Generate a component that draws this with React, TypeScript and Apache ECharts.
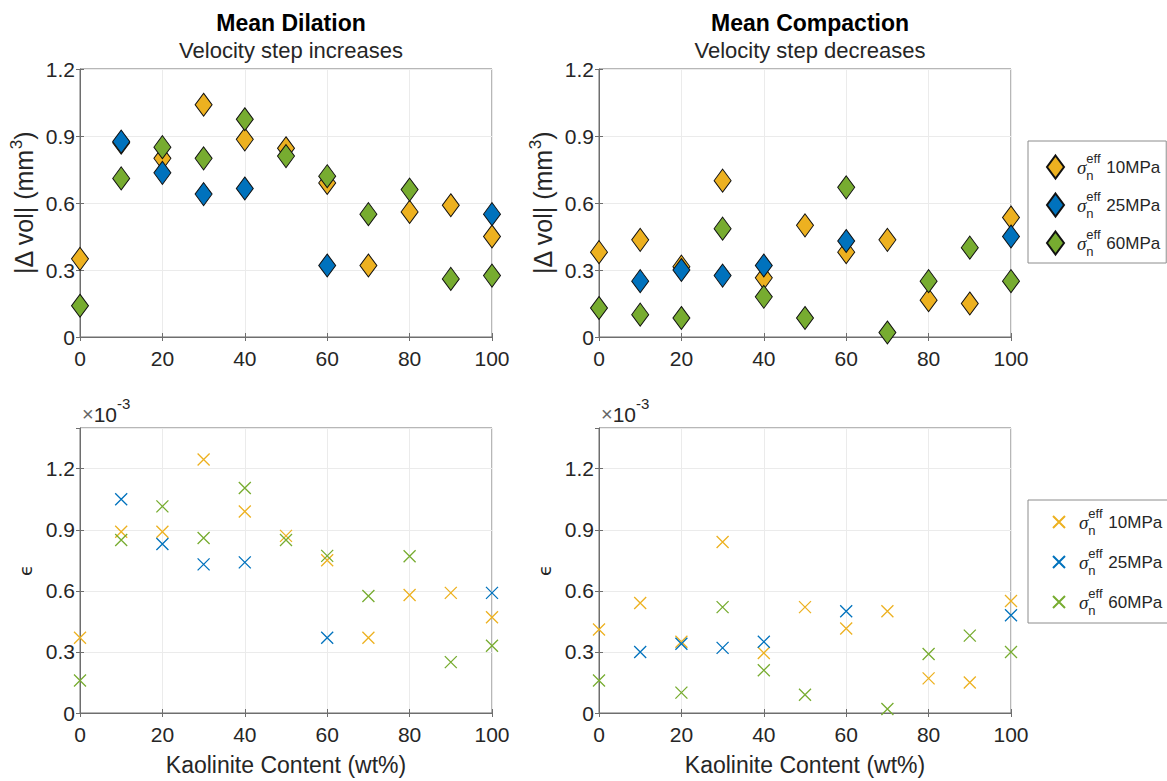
import React, { useEffect, useRef } from 'react';
import * as echarts from 'echarts';

// Kaolinite content (wt%)
const kaolinite = [0, 10, 20, 30, 40, 50, 60, 70, 80, 90, 100];
const pressures = ['10MPa', '25MPa', '60MPa'];

// |Δ vol| (mm^3), mean dilation (velocity step increases)
const dilVol10 = [0.35, 0.87, 0.80, 1.04, 0.885, 0.845, 0.69, 0.32, 0.56, 0.59, 0.45];
const dilVol25 = [null, 0.875, 0.735, 0.64, 0.665, null, 0.32, null, null, null, 0.55];
const dilVol60 = [0.14, 0.71, 0.85, 0.80, 0.975, 0.81, 0.72, 0.55, 0.66, 0.26, 0.275];
// |Δ vol| (mm^3), mean compaction (velocity step decreases)
const compVol10 = [0.38, 0.435, 0.315, 0.70, 0.265, 0.50, 0.38, 0.435, 0.165, 0.15, 0.535];
const compVol25 = [null, 0.25, 0.30, 0.275, 0.32, null, 0.43, null, null, null, 0.45];
const compVol60 = [0.13, 0.10, 0.085, 0.485, 0.18, 0.085, 0.67, 0.02, 0.25, 0.40, 0.25];
// ε (×10^-3), mean dilation
const dilEps10 = [0.37, 0.89, 0.89, 1.245, 0.99, 0.87, 0.75, 0.37, 0.58, 0.59, 0.47];
const dilEps25 = [null, 1.05, 0.83, 0.73, 0.74, null, 0.37, null, null, null, 0.59];
const dilEps60 = [0.16, 0.85, 1.015, 0.86, 1.105, 0.85, 0.772, 0.575, 0.77, 0.25, 0.33];
// ε (×10^-3), mean compaction
const compEps10 = [0.41, 0.54, 0.35, 0.84, 0.295, 0.52, 0.415, 0.50, 0.17, 0.15, 0.55];
const compEps25 = [null, 0.30, 0.34, 0.32, 0.35, null, 0.50, null, null, null, 0.48];
const compEps60 = [0.16, null, 0.10, 0.52, 0.21, 0.09, null, 0.02, 0.29, 0.38, 0.30];

const colors = ['#EDB120', '#0072BD', '#77AC30'];
const FONT = '"Liberation Sans", Arial, Helvetica, sans-serif';
const TXT = '#262626';
const AX = '#6e6e6e';
const CROSS = 'path://M0,0L10,10M0,10L10,0';

const pairs = (vals: (number | null)[]) =>
  kaolinite.map((x, i) => (vals[i] == null ? null : [x, vals[i]])).filter((d) => d !== null);

export default function App() {
  const ref = useRef<HTMLDivElement>(null);

  useEffect(() => {
    if (!ref.current) return;
    const chart = echarts.init(ref.current, undefined, { renderer: 'svg' });

    const grids = [
      { left: 80, top: 69, width: 412, height: 268 },
      { left: 599, top: 69, width: 412, height: 268 },
      { left: 80, top: 428, width: 412, height: 285 },
      { left: 599, top: 428, width: 412, height: 285 },
    ].map((g) => ({ ...g, show: true, borderColor: AX, borderWidth: 1, backgroundColor: '#fff' }));

    const xMain = grids.map((_, i) => ({
      type: 'value',
      gridIndex: i,
      position: 'bottom',
      min: 0,
      max: 100,
      interval: 20,
      name: i >= 2 ? 'Kaolinite Content (wt%)' : '',
      nameLocation: 'middle',
      nameGap: 40,
      nameTextStyle: { fontSize: 23, color: TXT, fontFamily: FONT },
      axisLine: { show: true, onZero: false, lineStyle: { color: AX, width: 1 } },
      axisTick: { show: true, inside: true, length: 4, lineStyle: { color: AX } },
      axisLabel: { fontSize: 21, color: TXT, margin: 11, fontFamily: FONT },
      splitLine: { show: true, lineStyle: { color: '#ebebeb', width: 1 } },
    }));
    const xMirror = grids.map((_, i) => ({
      type: 'value',
      gridIndex: i,
      position: 'top',
      min: 0,
      max: 100,
      interval: 20,
      axisLine: { show: false },
      axisTick: { show: true, inside: true, length: 4, lineStyle: { color: AX } },
      axisLabel: { show: false },
      splitLine: { show: false },
    }));

    const yMain = grids.map((_, i) => ({
      type: 'value',
      gridIndex: i,
      position: 'left',
      min: 0,
      max: i < 2 ? 1.2 : 1.4,
      interval: 0.3,
      name: i < 2 ? '{a||Δ vol| (mm}{b|3}{a|)}' : 'ϵ',
      nameLocation: 'middle',
      nameRotate: 90,
      nameGap: i < 2 ? 40 : 46,
      nameTextStyle:
        i < 2
          ? {
              color: TXT,
              fontFamily: FONT,
              rich: {
                a: { fontSize: 25, color: TXT, fontFamily: FONT, lineHeight: 32, verticalAlign: 'middle' },
                b: { fontSize: 17, color: TXT, fontFamily: FONT, lineHeight: 17, verticalAlign: 'top' },
              },
            }
          : { fontSize: 18, color: TXT, fontFamily: '"DejaVu Sans", sans-serif' },
      axisLine: { show: true, onZero: false, lineStyle: { color: AX, width: 1 } },
      axisTick: { show: true, inside: true, length: 4, lineStyle: { color: AX } },
      axisLabel: {
        fontSize: 21,
        color: TXT,
        margin: 5,
        fontFamily: FONT,
        showMaxLabel: i < 2,
        formatter: (v: number) => (v === 0 ? '0' : v.toFixed(1)),
      },
      splitLine: { show: true, lineStyle: { color: '#ebebeb', width: 1 } },
    }));
    const yMirror = grids.map((_, i) => ({
      type: 'value',
      gridIndex: i,
      position: 'right',
      min: 0,
      max: i < 2 ? 1.2 : 1.4,
      interval: 0.3,
      axisLine: { show: false },
      axisTick: { show: true, inside: true, length: 4, lineStyle: { color: AX } },
      axisLabel: { show: false },
      splitLine: { show: false },
    }));

    const volSets = [
      [dilVol10, dilVol25, dilVol60],
      [compVol10, compVol25, compVol60],
    ];
    const epsSets = [
      [dilEps10, dilEps25, dilEps60],
      [compEps10, compEps25, compEps60],
    ];

    const series: any[] = [];
    volSets.forEach((set, g) => {
      set.forEach((vals, k) => {
        series.push({
          type: 'scatter',
          name: 'Δvol ' + pressures[k],
          xAxisIndex: g,
          yAxisIndex: g,
          symbol: 'diamond',
          symbolSize: [17, 23],
          itemStyle: { color: colors[k], borderColor: '#111', borderWidth: 1, opacity: 1 },
          data: pairs(vals),
          z: 2 + k,
        });
      });
    });
    epsSets.forEach((set, g) => {
      set.forEach((vals, k) => {
        series.push({
          type: 'scatter',
          name: 'ε ' + pressures[k],
          xAxisIndex: g + 2,
          yAxisIndex: g + 2,
          symbol: CROSS,
          symbolSize: 12,
          itemStyle: { color: 'rgba(0,0,0,0)', borderColor: colors[k], borderWidth: 1.3, opacity: 1 },
          data: pairs(vals),
          z: 2 + k,
        });
      });
    });

    const richLegend = (padLeft: number) => ({
      s: { fontFamily: '"Liberation Serif", "DejaVu Serif", serif', fontStyle: 'italic', fontSize: 19, color: TXT, lineHeight: 30, verticalAlign: 'middle', padding: [0, 0, 0, padLeft] },
      e: { fontFamily: FONT, fontSize: 13, color: TXT, lineHeight: 13, verticalAlign: 'top', width: 0 },
      n: { fontFamily: FONT, fontSize: 13, color: TXT, lineHeight: 13, verticalAlign: 'bottom', width: 20 },
      t: { fontFamily: FONT, fontSize: 17, color: TXT, lineHeight: 30, verticalAlign: 'middle' },
    });
    const legendFmt = (name: string) => `{s|σ}{e|eff}{n|n}{t|${name.split(' ')[1]}}`;

    const sciTitle = (x: number) => ({
      text: '{x|×}{a|10}{b|-3}',
      left: x + 2,
      top: 396,
      padding: 0,
      textStyle: {
        fontWeight: 'normal',
        rich: {
          x: { fontSize: 20, fontWeight: 'normal', color: '#666', fontFamily: FONT, lineHeight: 36, verticalAlign: 'middle' },
          a: { fontSize: 21, fontWeight: 'normal', color: TXT, fontFamily: FONT, lineHeight: 36, verticalAlign: 'middle' },
          b: { fontSize: 15, fontWeight: 'normal', color: TXT, fontFamily: FONT, lineHeight: 15, verticalAlign: 'top' },
        },
      },
    });

    const option: any = {
      animation: false,
      backgroundColor: '#fff',
      textStyle: { fontFamily: FONT },
      title: [
        { text: 'Mean Dilation', left: 286, top: 6, textAlign: 'center', textStyle: { fontSize: 23, fontWeight: 'bold', color: '#000', fontFamily: FONT } },
        { text: 'Velocity step increases', left: 286, top: 34, textAlign: 'center', textStyle: { fontSize: 22, fontWeight: 'normal', color: TXT, fontFamily: FONT } },
        { text: 'Mean Compaction', left: 805, top: 6, textAlign: 'center', textStyle: { fontSize: 23, fontWeight: 'bold', color: '#000', fontFamily: FONT } },
        { text: 'Velocity step decreases', left: 805, top: 34, textAlign: 'center', textStyle: { fontSize: 22, fontWeight: 'normal', color: TXT, fontFamily: FONT } },
        sciTitle(80),
        sciTitle(599),
      ],
      legend: [
        {
          data: pressures.map((p) => 'Δvol ' + p),
          orient: 'vertical',
          left: 1028,
          top: 141,
          padding: [11, 6, 5, 18],
          itemGap: 8,
          itemWidth: 17,
          itemHeight: 23,
          borderColor: '#8c8c8c',
          borderWidth: 1,
          backgroundColor: '#fff',
          selectedMode: false,
          formatter: legendFmt,
          textStyle: { rich: richLegend(8) },
        },
        {
          data: pressures.map((p) => 'ε ' + p),
          orient: 'vertical',
          left: 1028,
          top: 500,
          padding: [7, 6, 6, 24],
          itemGap: 10,
          itemWidth: 12,
          itemHeight: 12,
          borderColor: '#8c8c8c',
          borderWidth: 1,
          backgroundColor: '#fff',
          selectedMode: false,
          formatter: legendFmt,
          textStyle: { rich: richLegend(9) },
        },
      ],
      grid: grids,
      xAxis: [...xMain, ...xMirror],
      yAxis: [...yMain, ...yMirror],
      series,
    };

    chart.setOption(option);
    return () => chart.dispose();
  }, []);

  return <div ref={ref} style={{ position: 'absolute', left: 0, top: 0, width: 1167, height: 781 }} />;
}
